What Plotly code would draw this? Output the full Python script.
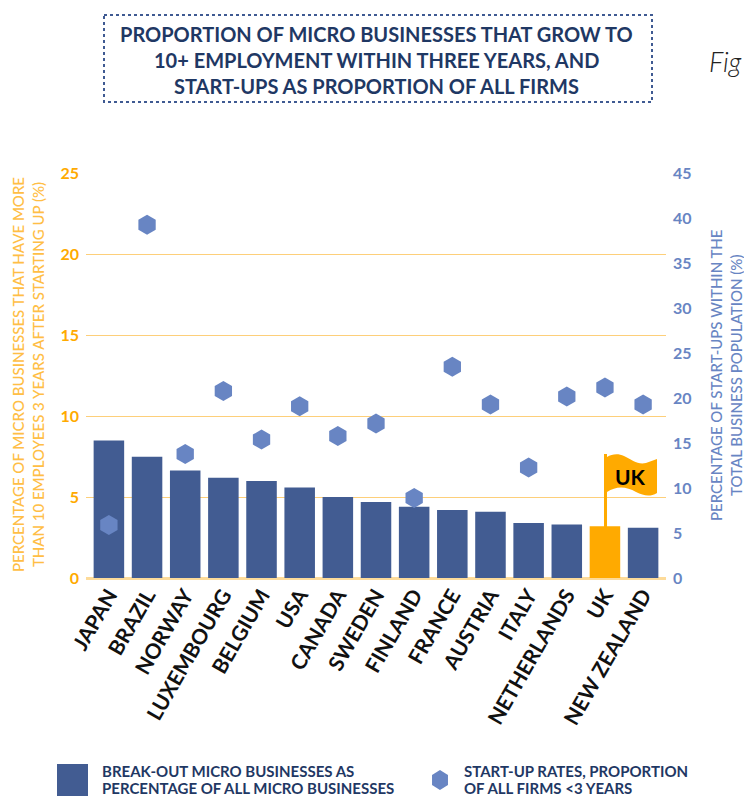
import re
import plotly.graph_objects as go

countries = ["JAPAN","BRAZIL","NORWAY","LUXEMBOURG","BELGIUM","USA","CANADA","SWEDEN","FINLAND","FRANCE","AUSTRIA","ITALY","NETHERLANDS","UK","NEW ZEALAND"]
breakout = [8.5,7.5,6.65,6.2,6.0,5.6,5.0,4.7,4.4,4.2,4.1,3.4,3.3,3.2,3.1]
startup = [5.9,39.3,13.8,20.8,15.4,19.1,15.8,17.2,8.9,23.5,19.3,12.3,20.2,21.2,19.3]
bar_colors = ["#FFAA00" if c == "UK" else "#425C92" for c in countries]
title_lines = ["PROPORTION OF MICRO BUSINESSES THAT GROW TO","10+ EMPLOYMENT WITHIN THREE YEARS, AND","START-UPS AS PROPORTION OF ALL FIRMS"]

W, H = 744, 796
L, R, T, B = 86, 666, 173, 578
FONT = "Lato"
def px(x): return (x - L) / (R - L)
def py(y): return (B - y) / (B - T)
def path(points):
    return "M " + " L ".join(f"{px(x):.4f},{py(y):.4f}" for x, y in points) + " Z"
def note(x, y, text, size, color, weight=700, anchor="left", style="normal", angle=0):
    return dict(xref="paper", yref="paper", x=px(x), y=py(y), text=text, showarrow=False, xanchor=anchor, yanchor="middle",
                align="center" if angle else anchor, textangle=angle,
                font=dict(family=FONT, size=size, color=color, weight=weight, style=style))

fig = go.Figure()
fig.add_bar(x=countries, y=breakout, marker=dict(color=bar_colors, line_width=0), width=0.8, showlegend=False)
fig.add_scatter(x=countries, y=startup, yaxis="y2", mode="markers", showlegend=False,
                marker=dict(symbol="hexagon", size=20, color="#6885C3", line_width=0))

flag = "M 604,454 L 607,454 L 607,457 C 612,454 618,453 624,456 C 632,460 638,465 646,463 L 657,459 L 657,493 C 650,497 644,496 636,492 C 626,486 616,486 607,492 L 607,527 L 604,527 Z"
def flag_path():
    out = []
    for t in re.findall(r"[A-Z]|[\d.]+,[\d.]+", flag):
        if "," in t:
            a, b = t.split(",")
            out.append(f"{px(float(a)):.4f},{py(float(b)):.4f}")
        else:
            out.append(t)
    return " ".join(out)

shapes = [
    dict(type="rect", xref="paper", yref="paper", x0=px(104), x1=px(652), y0=py(15), y1=py(102),
         line=dict(color="#3F5A92", width=2, dash="dot")),
    dict(type="rect", xref="paper", yref="paper", x0=px(57), x1=px(88), y0=py(764), y1=py(796),
         fillcolor="#425C92", line_width=0),
    dict(type="path", xref="paper", yref="paper", path=path([(440,770),(448,775),(448,785),(440,790),(432,785),(432,775)]),
         fillcolor="#6885C3", line_width=0),
    dict(type="path", xref="paper", yref="paper", path=flag_path(), fillcolor="#FFAA00", line_width=0),
]
annotations = [
    note(377, 34, title_lines[0], 20, "#1F3864", anchor="center"),
    note(377, 60, title_lines[1], 20, "#1F3864", anchor="center"),
    note(377, 86, title_lines[2], 20, "#1F3864", anchor="center"),
    note(707, 62, "Fig", 27, "#222222", weight=300, style="italic"),
    note(630, 476, "UK", 21, "#000000", anchor="center"),
    note(100, 771, "BREAK-OUT MICRO BUSINESSES AS", 15, "#1F3864"),
    note(100, 788, "PERCENTAGE OF ALL MICRO BUSINESSES", 15, "#1F3864"),
    note(462, 771, "START-UP RATES, PROPORTION", 15, "#1F3864"),
    note(462, 788, "OF ALL FIRMS &lt;3 YEARS", 15, "#1F3864"),
    note(28, 375, "PERCENTAGE OF MICRO BUSINESSES THAT HAVE MORE<br>THAN 10 EMPLOYEES 3 YEARS AFTER STARTING UP (%)", 15, "#FFBE45", weight=500, anchor="center", angle=-90),
    note(726, 375, "PERCENTAGE OF START-UPS WITHIN THE<br>TOTAL BUSINESS POPULATION (%)", 15, "#6885C3", weight=500, anchor="center", angle=-90),
]
fig.update_layout(
    width=W, height=H, margin=dict(l=L, r=W-R, t=T, b=H-B, autoexpand=False), paper_bgcolor="white", plot_bgcolor="white",
    bargap=0.2, shapes=shapes, annotations=annotations,
    xaxis=dict(range=[-0.6, 14.6], tickangle=-60, showgrid=False, zeroline=False, showline=False, ticks="", automargin=False,
               tickfont=dict(family=FONT, size=21, color="#111111", weight=700), categoryorder="array", categoryarray=countries),
    yaxis=dict(range=[0, 25.03], tickvals=[0,5,10,15,20,25], gridcolor="#FDCF7A", gridwidth=1.2, zeroline=True, zerolinecolor="#FDDB9A", zerolinewidth=2.5,
               showline=False, ticks="", ticklabelstandoff=6, automargin=False, tickfont=dict(family=FONT, size=16, color="#FFAA00", weight=700)),
    yaxis2=dict(range=[0, 45.054], tickvals=list(range(0,50,5)), overlaying="y", side="right", showgrid=False, zeroline=False, showline=False, ticks="",
                ticklabelstandoff=6, automargin=False, tickfont=dict(family=FONT, size=16, color="#6885C3", weight=700)),
)
fig.write_html("out.html", config=dict(displayModeBar=False), post_script="document.body.style.margin='0';document.body.style.overflow='hidden';")
